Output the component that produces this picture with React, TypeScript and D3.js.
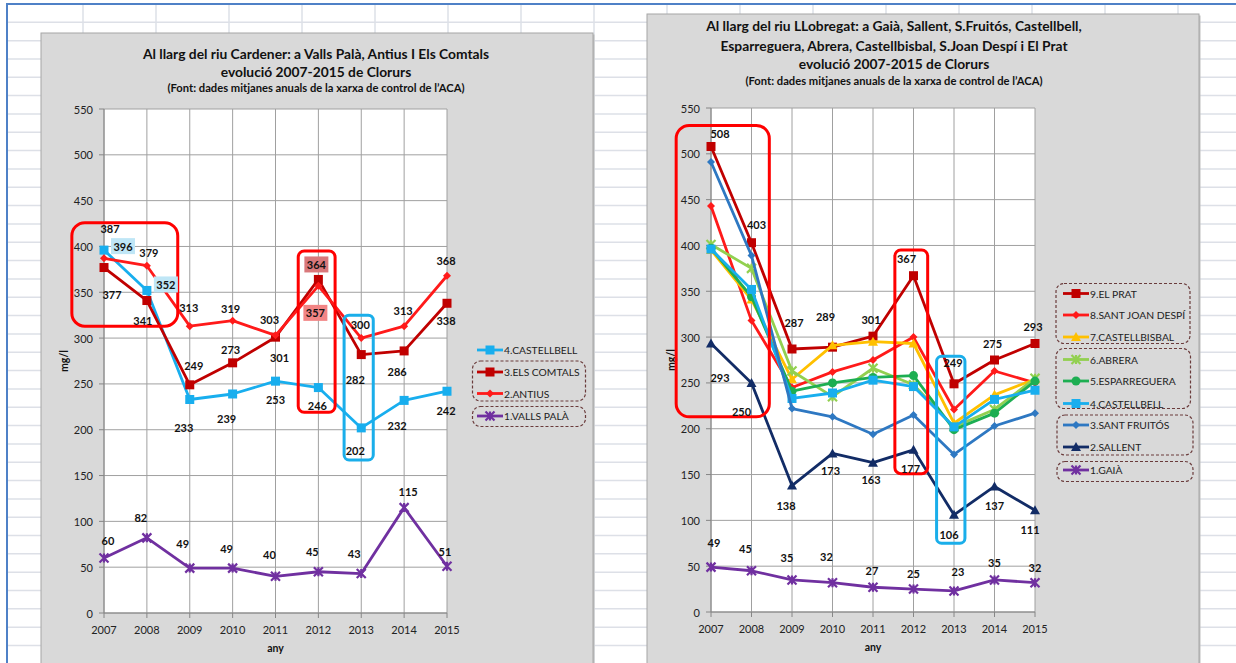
import React from 'react';
import * as d3 from 'd3';

// ---------- DATA ----------
const YEARS = [2007, 2008, 2009, 2010, 2011, 2012, 2013, 2014, 2015];
const Y_TICKS = [0, 50, 100, 150, 200, 250, 300, 350, 400, 450, 500, 550];

// Cardener chart
const CASTELLBELL = [396, 352, 233, 239, 253, 246, 202, 232, 242];
const ELS_COMTALS = [377, 341, 249, 273, 301, 364, 282, 286, 338];
const ANTIUS = [387, 379, 313, 319, 303, 357, 300, 313, 368];
const VALLS_PALA = [60, 82, 49, 49, 40, 45, 43, 115, 51];

// Llobregat chart
const EL_PRAT = [508, 403, 287, 289, 301, 367, 249, 275, 293];
const SANT_JOAN_DESPI = [443, 318, 245, 262, 275, 300, 221, 263, 250];
const CASTELLBISBAL = [395, 341, 254, 291, 295, 293, 206, 237, 254];
const ABRERA = [401, 375, 263, 235, 266, 248, 202, 221, 255];
const ESPARREGUERA = [397, 344, 241, 250, 256, 258, 199, 217, 252];
const CASTELLBELL_LL = [396, 352, 233, 239, 253, 246, 202, 232, 242];
const SANT_FRUITOS = [491, 389, 222, 213, 194, 215, 172, 203, 217];
const SALLENT = [293, 250, 138, 173, 163, 177, 106, 137, 111];
const GAIA = [49, 45, 35, 32, 27, 25, 23, 35, 32];

// ---------- LABEL PLACEMENT (offsets from point, px) ----------
const OFF_CASTELLBELL: [number, number][] = [[19, -4], [19, -6], [-6, 28], [-6, 25], [0, 18], [-1, 18], [-6, 23], [-7, 25], [-1, 19]];
const OFF_COMTALS: [number, number][] = [[8, 27], [-4, 20], [4, -19], [-2, -13], [4, 20], [-2, -15], [-6, 25], [-7, 21], [-1, 17]];
const OFF_ANTIUS: [number, number][] = [[6, -30], [2, -13], [-1, -19], [-2, -12], [-6, -16], [-3, 27], [-1, -14], [-1, -16], [-1, -15]];
const OFF_VALLS: [number, number][] = [[4, -18], [-6, -20], [-7, -25], [-6, -20], [-6, -22], [-6, -20], [-7, -20], [4, -16], [-2, -15]];
const OFF_PRAT: [number, number][] = [[9, -13], [5, -18], [2, -27], [-7, -31], [-2, -17], [-7, -17], [-1, -21], [-2, -17], [-2, -17]];
const OFF_SALLENT: [number, number][] = [[9, 34], [-10, 29], [-6, 20], [-2, 17], [-2, 17], [-3, 19], [-5, 20], [0, 19], [-5, 19]];
const OFF_GAIA: [number, number][] = [[3, -25], [-6, -22], [-5, -22], [-6, -26], [-1, -17], [0, -16], [4, -19], [0, -17], [0, -15]];

type MarkerType = 'square' | 'diamond' | 'star' | 'triangle' | 'circle';

interface Series {
  name: string;
  values: number[];
  color: string;
  marker: MarkerType;
  size: number;
  offsets?: [number, number][];
  labelBg?: Record<number, string>;
}

interface Annot { years: [number, number]; vals: [number, number]; color: string; r: number }
interface LegendBox { x0: number; x1: number; y0: number; y1: number }

interface ChartCfg {
  panel: { x: number; y: number; w: number; h: number };
  plot: { x0: number; x1: number; y0: number; y1: number };
  titleX: number;
  titles: { text: string; y: number; size: number }[];
  series: Series[]; // in drawing order
  legendOrder: number[];
  legendX: number;
  legendYs: number[];
  legendBoxes: LegendBox[];
  annots: Annot[];
}

const C_LBLUE = '#18AEEE';
const C_DRED = '#C00000';
const C_RED = '#FF1A1A';
const C_PURPLE = '#7030A0';
const C_YELLOW = '#FFC000';
const C_LGREEN = '#92D050';
const C_GREEN = '#1DAE52';
const C_MBLUE = '#2E78C2';
const C_NAVY = '#122C66';

const FONT = 'Lato, "Liberation Sans", Arial, sans-serif';

function Marker({ type, x, y, color, size }: { type: MarkerType; x: number; y: number; color: string; size: number }) {
  const s = size / 2;
  switch (type) {
    case 'square':
      return <rect x={x - s} y={y - s} width={size} height={size} fill={color} />;
    case 'diamond':
      return <path d={`M${x},${y - s}L${x + s},${y}L${x},${y + s}L${x - s},${y}Z`} fill={color} />;
    case 'triangle':
      return <path d={`M${x},${y - s}L${x + s},${y + s * 0.8}L${x - s},${y + s * 0.8}Z`} fill={color} />;
    case 'circle':
      return <circle cx={x} cy={y} r={s} fill={color} />;
    case 'star':
      return (
        <path
          d={`M${x - s},${y - s}L${x + s},${y + s}M${x - s},${y + s}L${x + s},${y - s}M${x},${y - s}L${x},${y + s}`}
          stroke={color}
          strokeWidth={2.2}
          fill="none"
        />
      );
  }
  return null;
}

function Chart({ cfg }: { cfg: ChartCfg }) {
  const { plot } = cfg;
  const x = d3.scaleLinear().domain([2007, 2015]).range([plot.x0, plot.x1]);
  const y = d3.scaleLinear().domain([0, 550]).range([plot.y0, plot.y1]);
  const line = d3
    .line<number>()
    .x((_, i) => x(YEARS[i]))
    .y((d) => y(d));
  const midY = (plot.y0 + plot.y1) / 2;
  const midX = (plot.x0 + plot.x1) / 2;

  return (
    <g fontFamily={FONT}>
      <rect x={cfg.panel.x + 1.5} y={cfg.panel.y + 1.5} width={cfg.panel.w} height={cfg.panel.h} fill="#BFBFBF" />
      <rect x={cfg.panel.x} y={cfg.panel.y} width={cfg.panel.w} height={cfg.panel.h} fill="#D9D9D9" stroke="#A6A6A6" strokeWidth={1} />
      {cfg.titles.map((t, i) => (
        <text key={i} x={cfg.titleX} y={t.y} textAnchor="middle" dominantBaseline="central" fontWeight="bold" fontSize={t.size} fill="#111">
          {t.text}
        </text>
      ))}
      <rect x={plot.x0} y={plot.y1} width={plot.x1 - plot.x0} height={plot.y0 - plot.y1} fill="#FFFFFF" />
      {Y_TICKS.map((t) => (
        <line key={'h' + t} x1={plot.x0} x2={plot.x1} y1={y(t)} y2={y(t)} stroke="#A0A0A0" strokeWidth={1} />
      ))}
      {YEARS.map((yr) => (
        <line key={'v' + yr} x1={x(yr)} x2={x(yr)} y1={plot.y1} y2={plot.y0} stroke="#A0A0A0" strokeWidth={1} />
      ))}
      <line x1={plot.x0} x2={plot.x0} y1={plot.y1} y2={plot.y0} stroke="#868686" strokeWidth={1} />
      <line x1={plot.x0} x2={plot.x1} y1={plot.y0} y2={plot.y0} stroke="#868686" strokeWidth={1} />
      {Y_TICKS.map((t) => (
        <g key={'yt' + t}>
          <line x1={plot.x0 - 5} x2={plot.x0} y1={y(t)} y2={y(t)} stroke="#868686" />
          <text x={plot.x0 - 11} y={y(t)} textAnchor="end" dominantBaseline="central" fontSize={11} fill="#222">
            {t}
          </text>
        </g>
      ))}
      {YEARS.map((yr) => (
        <g key={'xt' + yr}>
          <line x1={x(yr)} x2={x(yr)} y1={plot.y0} y2={plot.y0 + 5} stroke="#868686" />
          <text x={x(yr)} y={plot.y0 + 16} textAnchor="middle" dominantBaseline="central" fontSize={11} fill="#222">
            {yr}
          </text>
        </g>
      ))}
      <text
        transform={`translate(${plot.x0 - 40},${midY}) rotate(-90)`}
        textAnchor="middle"
        dominantBaseline="central"
        fontWeight="bold"
        fontSize={10.5}
        fill="#111"
      >
        mg/l
      </text>
      <text x={midX} y={plot.y0 + 35} textAnchor="middle" dominantBaseline="central" fontWeight="bold" fontSize={10.5} fill="#111">
        any
      </text>
      {cfg.series.map((s) => (
        <g key={s.name}>
          <path d={line(s.values) || ''} fill="none" stroke={s.color} strokeWidth={2.8} strokeLinejoin="round" />
          {s.values.map((v, i) => (
            <Marker key={i} type={s.marker} x={x(YEARS[i])} y={y(v)} color={s.color} size={s.size} />
          ))}
        </g>
      ))}
      {cfg.annots.map((a, i) => (
        <rect
          key={'an' + i}
          x={x(a.years[0])}
          y={y(a.vals[1])}
          width={x(a.years[1]) - x(a.years[0])}
          height={y(a.vals[0]) - y(a.vals[1])}
          rx={a.r}
          ry={a.r}
          fill="none"
          stroke={a.color}
          strokeWidth={3}
        />
      ))}
      {cfg.series.map((s) =>
        s.offsets
          ? s.values.map((v, i) => {
              const lx = x(YEARS[i]) + s.offsets![i][0];
              const ly = y(v) + s.offsets![i][1];
              const bg = s.labelBg ? s.labelBg[i] : undefined;
              return (
                <g key={s.name + 'l' + i}>
                  {bg && <rect x={lx - 12} y={ly - 8} width={24} height={16} fill={bg} />}
                  <text x={lx} y={ly} textAnchor="middle" dominantBaseline="central" fontWeight="bold" fontSize={11} fill="#111">
                    {v}
                  </text>
                </g>
              );
            })
          : null
      )}
      {cfg.legendBoxes.map((b, i) => (
        <rect
          key={'lb' + i}
          x={b.x0}
          y={b.y0}
          width={b.x1 - b.x0}
          height={b.y1 - b.y0}
          rx={8}
          ry={8}
          fill="none"
          stroke="#6A3B3B"
          strokeWidth={1.2}
          strokeDasharray="3,2"
        />
      ))}
      {cfg.legendOrder.map((si, k) => {
        const s = cfg.series[si];
        const ly = cfg.legendYs[k];
        const lx = cfg.legendX;
        return (
          <g key={'lg' + si}>
            <line x1={lx} x2={lx + 26} y1={ly} y2={ly} stroke={s.color} strokeWidth={2.8} />
            <Marker type={s.marker} x={lx + 13} y={ly} color={s.color} size={s.size} />
            <text x={lx + 27} y={ly} dominantBaseline="central" fontSize={10.3} fill="#222">
              {s.name}
            </text>
          </g>
        );
      })}
    </g>
  );
}

const LEFT: ChartCfg = {
  panel: { x: 41, y: 33, w: 552, h: 640 },
  plot: { x0: 104, x1: 447, y0: 613, y1: 109 },
  titleX: 316,
  titles: [
    { text: 'Al llarg del riu Cardener: a Valls Palà, Antius I Els Comtals', y: 53, size: 13.8 },
    { text: 'evolució 2007-2015 de Clorurs', y: 71.5, size: 13.8 },
    { text: '(Font: dades mitjanes anuals de la xarxa de control de l’ACA)', y: 87, size: 11.2 },
  ],
  series: [
    { name: '4.CASTELLBELL', values: CASTELLBELL, color: C_LBLUE, marker: 'square', size: 9, offsets: OFF_CASTELLBELL, labelBg: { 0: '#BFE6F6', 1: '#BFE6F6' } },
    { name: '3.ELS COMTALS', values: ELS_COMTALS, color: C_DRED, marker: 'square', size: 9, offsets: OFF_COMTALS, labelBg: { 5: '#D9787B' } },
    { name: '2.ANTIUS', values: ANTIUS, color: C_RED, marker: 'diamond', size: 8, offsets: OFF_ANTIUS, labelBg: { 5: '#F28585' } },
    { name: '1.VALLS PALÀ', values: VALLS_PALA, color: C_PURPLE, marker: 'star', size: 9, offsets: OFF_VALLS },
  ],
  legendOrder: [0, 1, 2, 3],
  legendX: 477,
  legendYs: [350, 372, 393.5, 416],
  legendBoxes: [
    { x0: 472.5, x1: 585.5, y0: 361, y1: 401 },
    { x0: 472.5, x1: 585.5, y0: 406.5, y1: 426.5 },
  ],
  annots: [
    { years: [2006.25, 2008.72], vals: [313, 426], color: '#FF0000', r: 13 },
    { years: [2011.53, 2012.39], vals: [219, 395], color: '#FF0000', r: 6 },
    { years: [2012.6, 2013.28], vals: [167, 325], color: '#1AAEEA', r: 5 },
  ],
};

const RIGHT: ChartCfg = {
  panel: { x: 647, y: 14, w: 552, h: 660 },
  plot: { x0: 711, x1: 1035, y0: 612, y1: 108 },
  titleX: 894,
  titles: [
    { text: 'Al llarg del riu LLobregat: a Gaià, Sallent, S.Fruitós, Castellbell,', y: 25, size: 13.8 },
    { text: 'Esparreguera, Abrera, Castellbisbal, S.Joan Despí i El Prat', y: 45, size: 13.8 },
    { text: 'evolució 2007-2015 de Clorurs', y: 63.5, size: 13.8 },
    { text: '(Font: dades mitjanes anuals de la xarxa de control de l’ACA)', y: 80.5, size: 11.2 },
  ],
  series: [
    { name: '9.EL PRAT', values: EL_PRAT, color: C_DRED, marker: 'square', size: 9, offsets: OFF_PRAT },
    { name: '8.SANT JOAN DESPÍ', values: SANT_JOAN_DESPI, color: C_RED, marker: 'diamond', size: 8 },
    { name: '7.CASTELLBISBAL', values: CASTELLBISBAL, color: C_YELLOW, marker: 'triangle', size: 10 },
    { name: '6.ABRERA', values: ABRERA, color: C_LGREEN, marker: 'star', size: 9 },
    { name: '5.ESPARREGUERA', values: ESPARREGUERA, color: C_GREEN, marker: 'circle', size: 9 },
    { name: '4.CASTELLBELL', values: CASTELLBELL_LL, color: C_LBLUE, marker: 'square', size: 9 },
    { name: '3.SANT FRUITÓS', values: SANT_FRUITOS, color: C_MBLUE, marker: 'diamond', size: 8 },
    { name: '2.SALLENT', values: SALLENT, color: C_NAVY, marker: 'triangle', size: 10, offsets: OFF_SALLENT },
    { name: '1.GAIÀ', values: GAIA, color: C_PURPLE, marker: 'star', size: 9, offsets: OFF_GAIA },
  ],
  legendOrder: [0, 1, 2, 3, 4, 5, 6, 7, 8],
  legendX: 1063,
  legendYs: [293.5, 315, 337, 359.5, 381, 403.5, 425, 447, 470],
  legendBoxes: [
    { x0: 1056, x1: 1190, y0: 283.5, y1: 343.5 },
    { x0: 1056, x1: 1190.5, y0: 348.5, y1: 408.5 },
    { x0: 1057, x1: 1193, y0: 415, y1: 455 },
    { x0: 1057, x1: 1193, y0: 461.5, y1: 481.5 },
  ],
  annots: [
    { years: [2006.14, 2008.44], vals: [213, 531], color: '#FF0000', r: 13 },
    { years: [2011.54, 2012.35], vals: [151, 395], color: '#FF0000', r: 6 },
    { years: [2012.57, 2013.27], vals: [75, 279], color: '#1AAEEA', r: 5 },
  ],
};

function SheetBackground() {
  const cols = d3.range(83, 1236, 73);
  const rows = d3.range(22.3, 663, 18.33);
  return (
    <g>
      <rect x={0} y={0} width={1236} height={663} fill="#FFFFFF" />
      {cols.map((c) => (
        <line key={'c' + c} x1={c} x2={c} y1={4} y2={663} stroke="#DDE0E7" strokeWidth={1.5} />
      ))}
      {rows.map((r) => (
        <line key={'r' + r} x1={7} x2={1236} y1={r} y2={r} stroke="#DDE0E7" strokeWidth={1.5} />
      ))}
      <line x1={6} x2={1236} y1={4} y2={4} stroke="#4F81C7" strokeWidth={2} />
      <line x1={7} x2={7} y1={4} y2={663} stroke="#4F81C7" strokeWidth={2} />
    </g>
  );
}

export default function App() {
  return (
    <svg
      width={1236}
      height={663}
      viewBox="0 0 1236 663"
      style={{ position: 'absolute', left: 0, top: 0, display: 'block' }}
    >
      <SheetBackground />
      <Chart cfg={LEFT} />
      <Chart cfg={RIGHT} />
    </svg>
  );
}
